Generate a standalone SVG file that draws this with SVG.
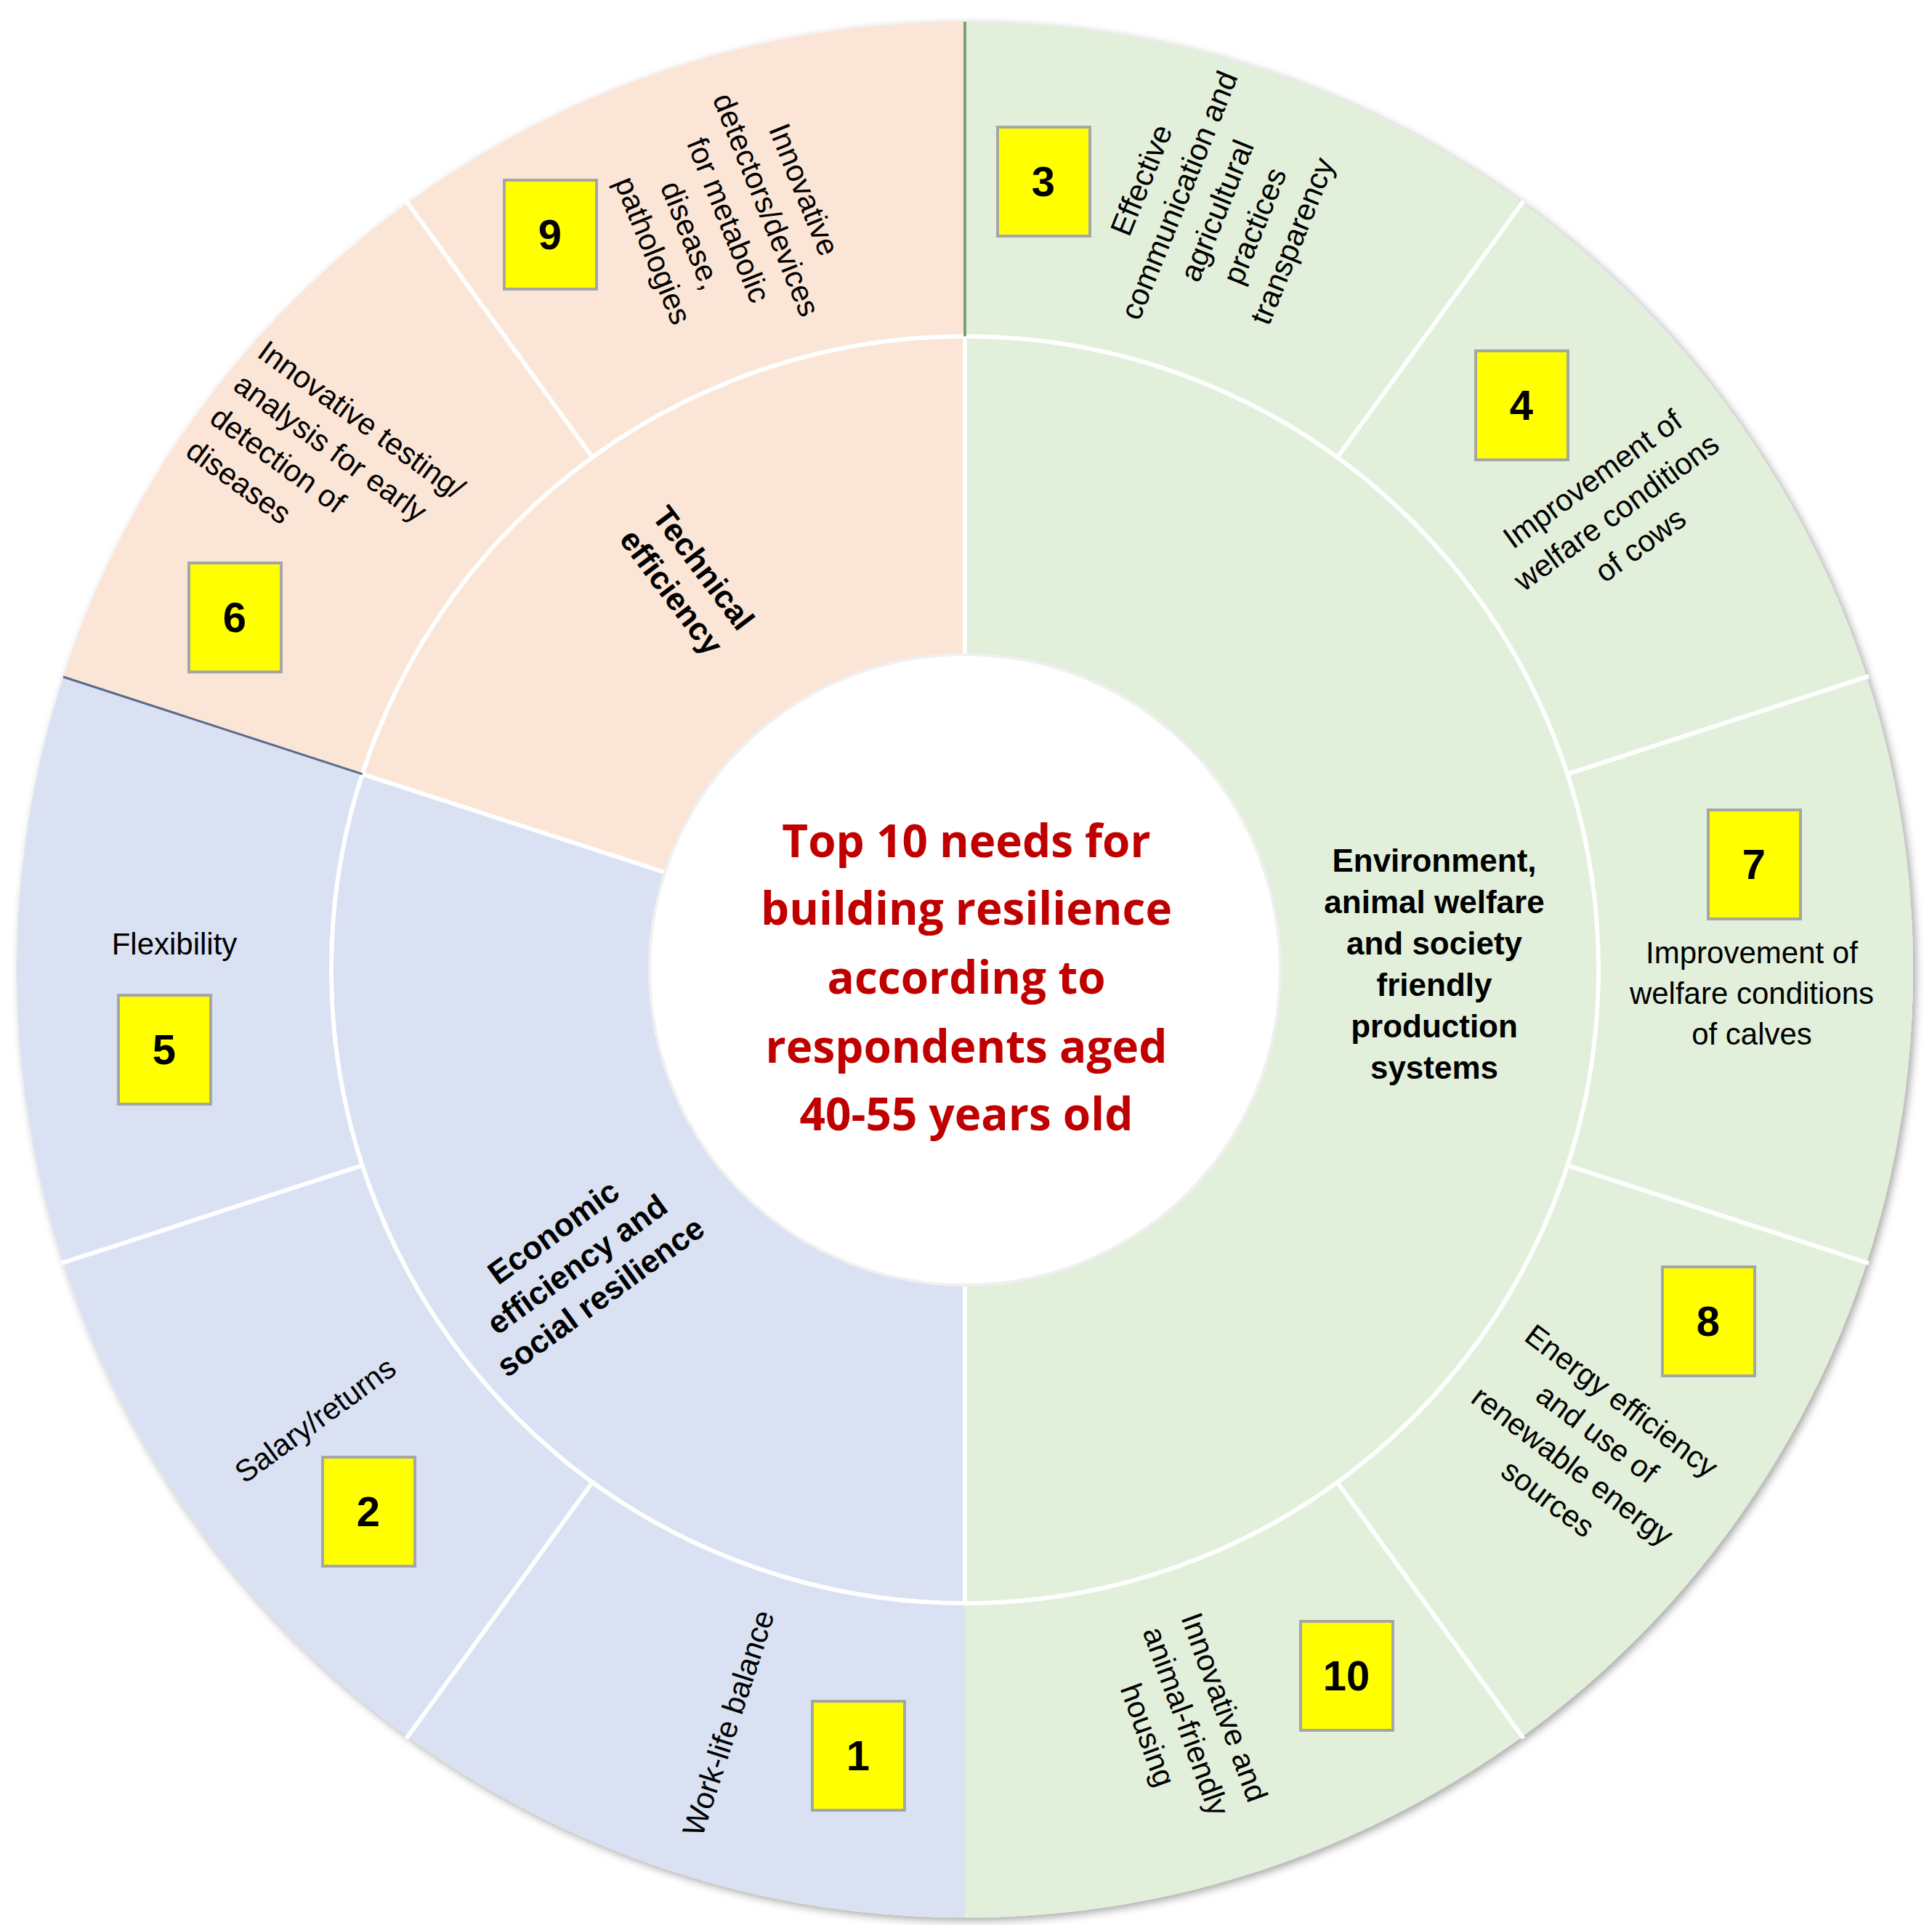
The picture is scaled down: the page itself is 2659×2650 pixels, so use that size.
<svg xmlns="http://www.w3.org/2000/svg" width="2659" height="2650" viewBox="0 0 2659 2650">
<style>
.sep{stroke:#fff;stroke-width:6;fill:none}
.lbl{font-family:"Liberation Sans",Arial,sans-serif;font-size:42px;fill:#000;text-anchor:middle}
.cat{font-family:"Liberation Sans",Arial,sans-serif;font-size:44px;font-weight:bold;fill:#000;text-anchor:middle}
.box{fill:#FFFF00;stroke:#A6A6A6;stroke-width:4}
.num{font-family:"Liberation Sans",Arial,sans-serif;font-size:58px;font-weight:bold;fill:#000;text-anchor:middle}
.title{font-family:"Open Sans","Liberation Sans",sans-serif;font-size:62px;font-weight:bold;fill:#C00000;text-anchor:middle}
</style>
<defs>
<filter id="sh" x="-5%" y="-5%" width="110%" height="110%"><feDropShadow dx="4" dy="4" stdDeviation="6" flood-color="#000" flood-opacity="0.35"/></filter>
</defs>
<g id="wheel" filter="url(#sh)">
<path d="M1328 1335 L1328 30 A1305 1305 0 0 1 1328 2640 Z" fill="#E2EFDA"/>
<path d="M1328 1335 L1328 2640 A1305 1305 0 0 1 87 931.7 Z" fill="#D9E1F2"/>
<path d="M1328 1335 L87 931.7 A1305 1305 0 0 1 1328 30 Z" fill="#FBE5D6"/>
</g>
<g id="connectors">
<circle class="sep" cx="1328" cy="1335" r="872"/>
<line class="sep" x1="1840.6" y1="629.6" x2="2096.8" y2="276.8"/>
<line class="sep" x1="2157.3" y1="1065.6" x2="2572" y2="930.8"/>
<line class="sep" x1="2157.3" y1="1604.4" x2="2572" y2="1739.2"/>
<line class="sep" x1="1840.6" y1="2040.4" x2="2096.8" y2="2393.2"/>
<line class="sep" x1="815.4" y1="2040.4" x2="559.2" y2="2393.2"/>
<line class="sep" x1="498.7" y1="1604.4" x2="84" y2="1739.2"/>
<line class="sep" x1="815.4" y1="629.6" x2="559.2" y2="276.8"/>
<line class="sep" x1="1328" y1="901" x2="1328" y2="463"/>
<line class="sep" x1="1328" y1="1769" x2="1328" y2="2207"/>
<line class="sep" x1="915.2" y1="1200.9" x2="498.7" y2="1065.6"/>
<line x1="1328" y1="463" x2="1328" y2="30" stroke="#7F9F6F" stroke-width="4"/>
<line x1="498.7" y1="1065.6" x2="87" y2="931.7" stroke="#5A6A8A" stroke-width="3"/>
</g>
<g id="center">
<circle cx="1328" cy="1335" r="434" fill="#fff" stroke="#f0f0f0" stroke-width="4"/>
<text class="title" x="1330" y="1180">Top 10 needs for</text>
<text class="title" x="1330" y="1273">building resilience</text>
<text class="title" x="1330" y="1368">according to</text>
<text class="title" x="1330" y="1463">respondents aged</text>
<text class="title" x="1330" y="1556">40-55 years old</text>
</g>
<g id="cat-env">
<text class="cat" x="1974"><tspan x="1974" y="1200">Environment,</tspan><tspan x="1974" y="1257">animal welfare</tspan><tspan x="1974" y="1314">and society</tspan><tspan x="1974" y="1371">friendly</tspan><tspan x="1974" y="1428">production</tspan><tspan x="1974" y="1485">systems</tspan></text>
</g>
<g id="cat-tech">
<text class="cat" transform="rotate(53 944 800)"><tspan x="944" y="785">Technical</tspan><tspan x="944" y="840">efficiency</tspan></text>
</g>
<g id="cat-econ">
<text class="cat" transform="rotate(-36 790 1735)"><tspan x="790" y="1702">Economic</tspan><tspan x="790" y="1757">efficiency and</tspan><tspan x="790" y="1812">social resilience</tspan></text>
</g>
<g id="n3">
<text class="lbl" transform="rotate(-68 1675 290)"><tspan x="1675" y="192">Effective</tspan><tspan x="1675" y="248">communication and</tspan><tspan x="1675" y="304">agricultural</tspan><tspan x="1675" y="360">practices</tspan><tspan x="1675" y="416">transparency</tspan></text>
<rect class="box" x="1373" y="175" width="127" height="150"/><text class="num" x="1436" y="270">3</text>
</g>
<g id="n4">
<text class="lbl" transform="rotate(-36 2219 697)"><tspan x="2219" y="665">Improvement of</tspan><tspan x="2219" y="721">welfare conditions</tspan><tspan x="2219" y="777">of cows</tspan></text>
<rect class="box" x="2031" y="483" width="127" height="150"/><text class="num" x="2094" y="578">4</text>
</g>
<g id="n7">
<text class="lbl"><tspan x="2411" y="1326">Improvement of</tspan><tspan x="2411" y="1382">welfare conditions</tspan><tspan x="2411" y="1438">of calves</tspan></text>
<rect class="box" x="2351" y="1115" width="127" height="150"/><text class="num" x="2414" y="1210">7</text>
</g>
<g id="n8">
<text class="lbl" transform="rotate(37 2193 1980)"><tspan x="2193" y="1930">Energy efficiency</tspan><tspan x="2193" y="1986">and use of</tspan><tspan x="2193" y="2042">renewable energy</tspan><tspan x="2193" y="2098">sources</tspan></text>
<rect class="box" x="2288" y="1744" width="127" height="150"/><text class="num" x="2351" y="1839">8</text>
</g>
<g id="n10">
<text class="lbl" transform="rotate(70 1650 2363)"><tspan x="1650" y="2340">Innovative and</tspan><tspan x="1650" y="2396">animal-friendly</tspan><tspan x="1650" y="2452">housing</tspan></text>
<rect class="box" x="1790" y="2232" width="127" height="150"/><text class="num" x="1853" y="2327">10</text>
</g>
<g id="n1">
<text class="lbl" transform="rotate(-72 1003 2372)" x="1003" y="2386">Work-life balance</text>
<rect class="box" x="1118" y="2342" width="127" height="150"/><text class="num" x="1181" y="2437">1</text>
</g>
<g id="n2">
<text class="lbl" transform="rotate(-36 434 1955)" x="434" y="1969">Salary/returns</text>
<rect class="box" x="444" y="2006" width="127" height="150"/><text class="num" x="507" y="2101">2</text>
</g>
<g id="n5">
<text class="lbl" x="240" y="1314">Flexibility</text>
<rect class="box" x="163" y="1370" width="127" height="150"/><text class="num" x="226" y="1465">5</text>
</g>
<g id="n6">
<text class="lbl" style="text-anchor:start" transform="rotate(36 352 490)"><tspan x="352" y="490">Innovative testing/</tspan><tspan x="352" y="546">analysis for early</tspan><tspan x="352" y="602">detection of</tspan><tspan x="352" y="658">diseases</tspan></text>
<rect class="box" x="260" y="775" width="127" height="150"/><text class="num" x="323" y="870">6</text>
</g>
<g id="n9">
<text class="lbl" transform="rotate(68 995 306)"><tspan x="995" y="200">Innovative</tspan><tspan x="995" y="256">detectors/devices</tspan><tspan x="995" y="312">for metabolic</tspan><tspan x="995" y="368">disease,</tspan><tspan x="995" y="424">pathologies</tspan></text>
<rect class="box" x="694" y="248" width="127" height="150"/><text class="num" x="757" y="343">9</text>
</g>
</svg>
